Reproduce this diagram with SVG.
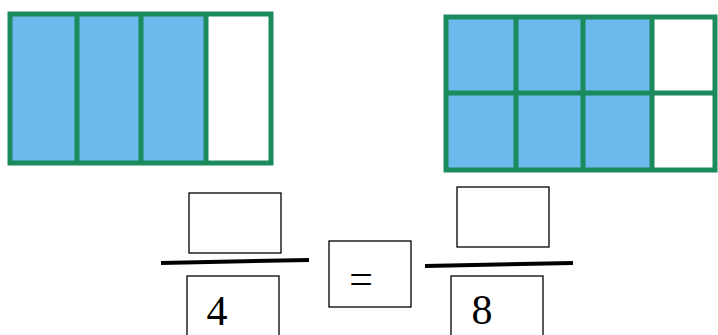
<svg xmlns="http://www.w3.org/2000/svg" width="718" height="335" viewBox="0 0 718 335">
<style>
.blue{fill:#6cb9ee}
.white{fill:#ffffff}
.g{stroke:#1b8a5c;stroke-width:5;fill:none}
.box{fill:#ffffff;stroke:#000;stroke-width:1.3}
.bar{stroke:#000;stroke-width:4}
</style>
<rect width="718" height="335" fill="#ffffff"/>
<g id="fourths">
<rect class="blue" x="10" y="14" width="196" height="149"/>
<rect class="white" x="206" y="14" width="65" height="149"/>
<rect class="g" x="10" y="14" width="261" height="149"/>
<line class="g" x1="77" y1="14" x2="77" y2="163"/>
<line class="g" x1="141" y1="14" x2="141" y2="163"/>
<line class="g" x1="206" y1="14" x2="206" y2="163"/>
</g>
<g id="eighths">
<rect class="blue" x="446" y="17" width="206" height="153"/>
<rect class="white" x="652" y="17" width="63" height="153"/>
<rect class="g" x="446" y="17" width="269" height="153"/>
<line class="g" x1="446" y1="93" x2="715" y2="93"/>
<line class="g" x1="516" y1="17" x2="516" y2="170"/>
<line class="g" x1="583" y1="17" x2="583" y2="170"/>
<line class="g" x1="652" y1="17" x2="652" y2="170"/>
</g>
<g id="left-fraction">
<rect class="box" x="189" y="193" width="92" height="60"/>
<line class="bar" x1="161" y1="263" x2="309" y2="260"/>
<rect class="box" x="187" y="276" width="92" height="70"/>
<text x="217" y="325" font-family="'Liberation Serif', 'DejaVu Serif', serif" font-size="42" text-anchor="middle" fill="#000">4</text>
</g>
<g id="equals">
<rect class="box" x="329" y="241" width="82" height="66"/>
<text x="361" y="293" font-family="'Liberation Serif', 'DejaVu Serif', serif" font-size="42" text-anchor="middle" fill="#000">=</text>
</g>
<g id="right-fraction">
<rect class="box" x="457" y="187" width="92" height="60"/>
<line class="bar" x1="425" y1="266" x2="573" y2="263"/>
<rect class="box" x="451" y="276" width="92" height="70"/>
<text x="482" y="324" font-family="'Liberation Serif', 'DejaVu Serif', serif" font-size="42" text-anchor="middle" fill="#000">8</text>
</g>
</svg>
